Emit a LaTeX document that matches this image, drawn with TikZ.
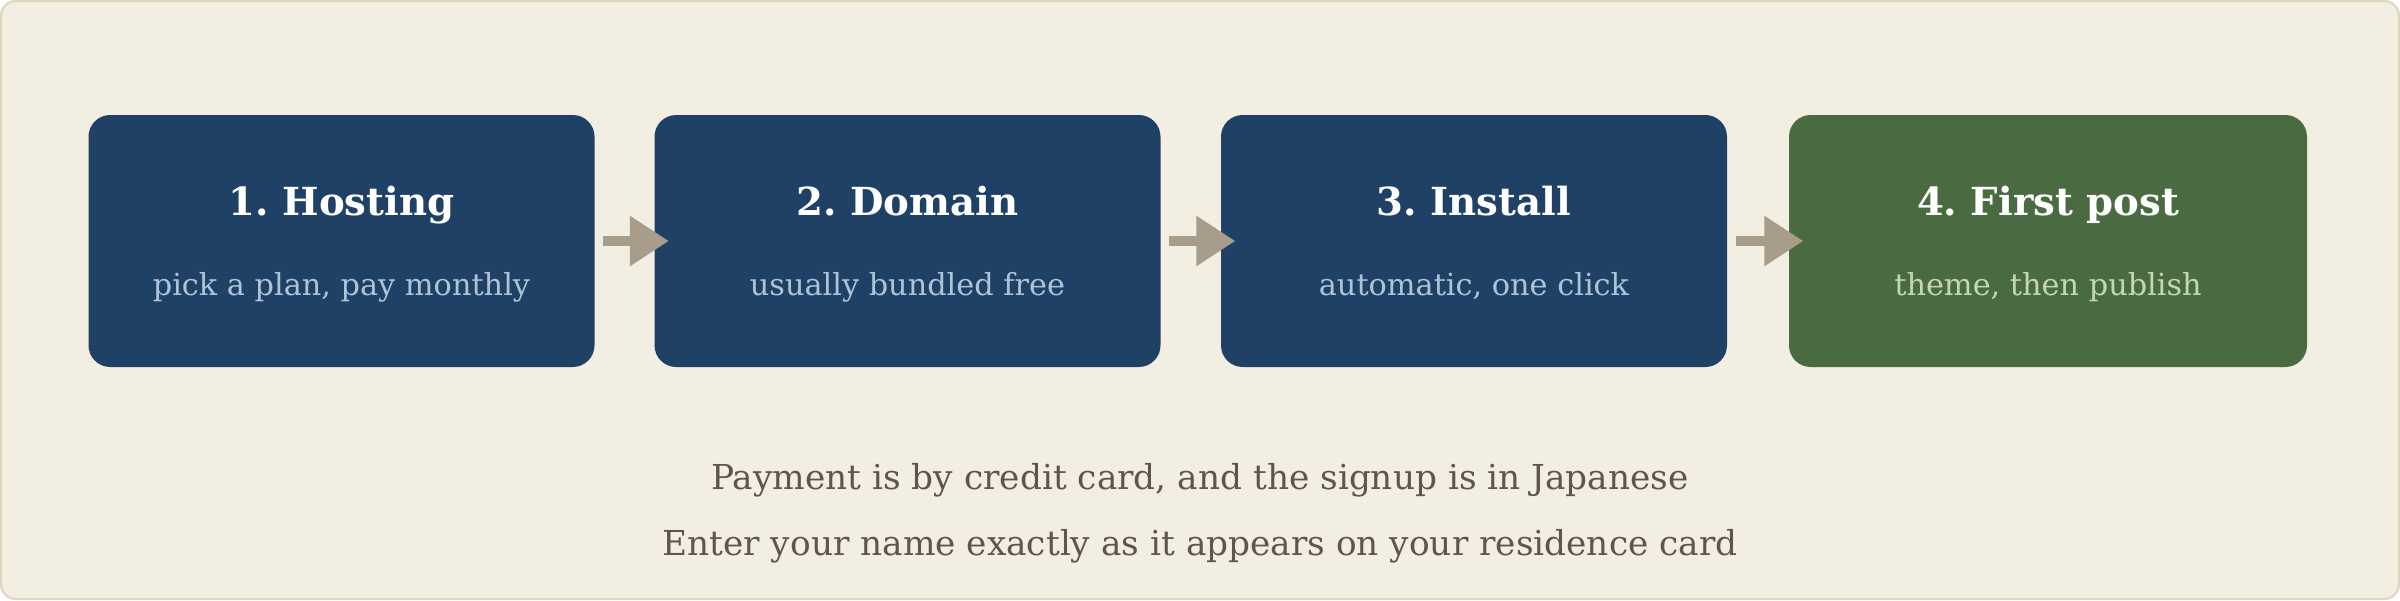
\documentclass[tikz,border=0pt]{standalone}
\usepackage{fontspec}
\setmainfont{DejaVu Serif}
\usetikzlibrary{arrows.meta}
\definecolor{bgc}{HTML}{F3EEE2}
\definecolor{bordc}{HTML}{DDD5BC}
\definecolor{bluec}{HTML}{1F4166}
\definecolor{greenc}{HTML}{4A6B41}
\definecolor{bsub}{HTML}{AFC3D8}
\definecolor{gsub}{HTML}{C3D6B6}
\definecolor{arrc}{HTML}{A89C8A}
\definecolor{notec}{HTML}{5E564C}
\tikzset{
  stepbox/.style={rounded corners=6.5pt, minimum height=75.6pt, inner sep=0pt},
  ttl/.style={anchor=base, text=white, font=\fontsize{11.6pt}{14pt}\selectfont\bfseries},
  sub/.style={anchor=base, font=\fontsize{9.1pt}{12pt}\selectfont},
  note/.style={anchor=base, text=notec, font=\fontsize{10.3pt}{13pt}\selectfont},
  arr/.style={draw=arrc, line width=2.8pt, -{Triangle[length=11.7pt,width=14.4pt]}}
}
\begin{document}
\frenchspacing
\begin{tikzpicture}[x=0.3pt,y=-0.3pt]
\useasboundingbox (0,0) rectangle (2400,600);
\fill[white] (0,0) rectangle (2400,600);
\draw[fill=bgc, draw=bordc, line width=0.6pt, rounded corners=4.5pt] (1,1) rectangle (2399,599);
% boxes
\node[stepbox, fill=bluec, minimum width=151.8pt] (b1) at (341.5,241) {};
\node[stepbox, fill=bluec, minimum width=151.8pt] (b2) at (907.5,241) {};
\node[stepbox, fill=bluec, minimum width=151.8pt] (b3) at (1474,241) {};
\node[stepbox, fill=greenc, minimum width=155.4pt] (b4) at (2048,241) {};
% titles
\node[ttl] (t1) at (341.5,215) {1. Hosting};
\node[ttl] (t2) at (907.5,215) {2. Domain};
\node[ttl] (t3) at (1474,215) {3. Install};
\node[ttl] (t4) at (2048,215) {4. First post};
% subtitles
\node[sub, text=bsub] (s1) at (341.5,295) {pick a plan, pay monthly};
\node[sub, text=bsub] (s2) at (907.5,295) {usually bundled free};
\node[sub, text=bsub] (s3) at (1474,295) {automatic, one click};
\node[sub, text=gsub] (s4) at (2048,295) {theme, then publish};
% arrows
\draw[arr] ([xshift=2.4pt]b1.east) -- ([xshift=4.5pt]b2.west);
\draw[arr] ([xshift=2.4pt]b2.east) -- ([xshift=4.5pt]b3.west);
\draw[arr] ([xshift=2.4pt]b3.east) -- ([xshift=4.5pt]b4.west);
% notes
\node[note] (n1) at (1200,489) {Payment is by credit card, and the signup is in Japanese};
\node[note] (n2) at (1200,555) {Enter your name exactly as it appears on your residence card};
\end{tikzpicture}
\end{document}
